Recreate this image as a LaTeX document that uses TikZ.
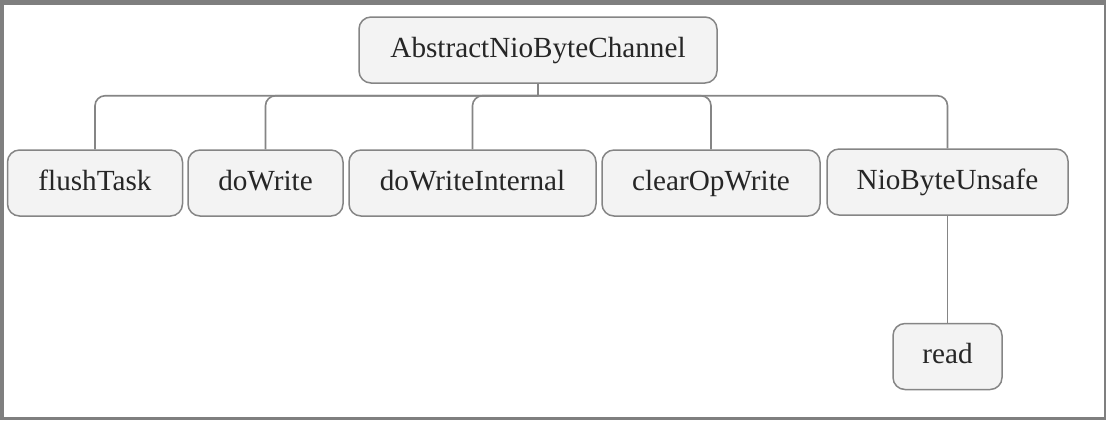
\documentclass[tikz,border=0pt]{standalone}
\usepackage{fontspec}
\setmainfont{Liberation Serif}
\usepackage{tikz}
\usetikzlibrary{calc}

\definecolor{boxfill}{HTML}{F3F3F3}
\definecolor{boxline}{HTML}{858585}
\definecolor{framegray}{HTML}{7F7F7F}
\definecolor{textdark}{HTML}{262626}

\begin{document}
\begin{tikzpicture}[x=0.5pt, y=-0.5pt,
    every node/.style={font=\fontsize{14.6}{17}\selectfont, text=textdark},
    methodbox/.style={draw=boxline, fill=boxfill, line width=0.75pt,
        rounded corners=6pt, minimum height=33pt, inner sep=0pt,
        text height=0.8em, text depth=0.07em},
    treeline/.style={draw=boxline, line width=0.8pt, rounded corners=5pt}]

% =========================================================
% Method tree of AbstractNioByteChannel
% =========================================================

% --- 1. PAGE FRAME ---
\useasboundingbox (0,0) rectangle (1106,420);
\fill[framegray] (0,0) rectangle (1106,420);
\fill[white] (4,5) rectangle (1104,417);

% --- 2. ROOT CLASS ---
\node[methodbox, minimum width=179pt] (channel) at (538,50) {AbstractNioByteChannel};

% --- 3. MEMBERS (one row) ---
\node[methodbox, minimum width=87.5pt]  (flushTask)       at (95,183)    {flushTask};
\node[methodbox, minimum width=77.5pt]  (doWrite)         at (265.5,183) {doWrite};
\node[methodbox, minimum width=123.5pt] (doWriteInternal) at (472.5,183) {doWriteInternal};
\node[methodbox, minimum width=109pt]   (clearOpWrite)    at (711,183)   {clearOpWrite};
\node[methodbox, minimum width=120.5pt] (unsafe)          at (947.5,182) {NioByteUnsafe};

% Inner class method
\node[methodbox, minimum width=54.5pt] (read) at (947.5,356.5) {read};

% --- 4. CONNECTORS ---
% Stem from the root down to the bus
\draw[treeline] (channel.south) -- ++(0,12) coordinate (bus);

% Bus to each member
\draw[treeline] (bus) -| (flushTask.north);
\draw[treeline] (bus) -| (doWrite.north);
\draw[treeline] (bus) -| (doWriteInternal.north);
\draw[treeline] (bus) -| (clearOpWrite.north);
\draw[treeline] (bus) -| (unsafe.north);

% Inner class to its method
\draw[treeline] (unsafe.south) -- (read.north);

\end{tikzpicture}
\end{document}
